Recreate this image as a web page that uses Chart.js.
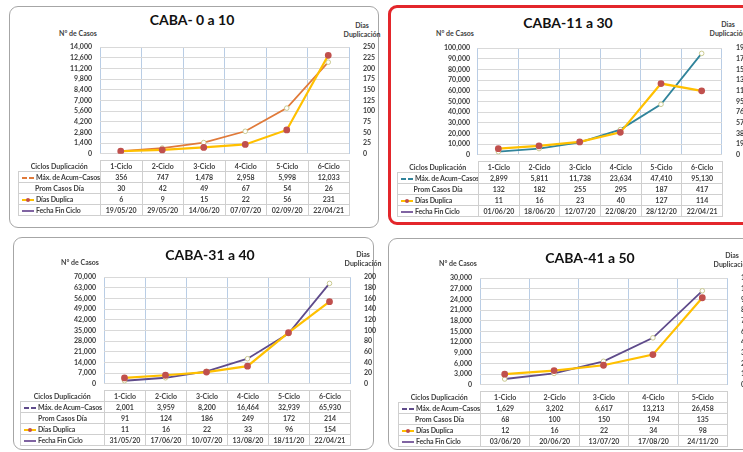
<!DOCTYPE html>
<html>
<head>
<meta charset="utf-8">
<script src="https://cdn.jsdelivr.net/npm/chart.js@4.4.0/dist/chart.umd.min.js"></script>
<style>
  body { margin: 0; width: 743px; height: 452px; overflow: hidden; background: #fff; position: relative;
         font-family: Lato, "Open Sans", sans-serif; }
  .box { position: absolute; border: 1.5px solid #a6a6a6; border-radius: 9px; box-sizing: border-box; }
  .box.red { border: 3px solid #e3262b; }
  .t { position: absolute; white-space: nowrap; color: #404040; font-weight: bold; font-size: 7px; line-height: 8px;
       transform: translate(-50%, -50%); }
  .title { font-size: 14px; line-height: 16px; color: #111; }
  canvas { position: absolute; }
  table { position: absolute; border-collapse: collapse; table-layout: fixed; font-size: 7px; font-weight: bold; color: #404040; }
  td { border: 1px solid #cfcfcf; height: 10px; line-height: 10px; padding: 0; text-align: center; white-space: nowrap; overflow: hidden; }
  td.lab { text-align: left; padding-left: 3px; letter-spacing: -0.15px; }
  td.hd { border: none; text-align: center; }
  .k { display: inline-block; width: 12px; margin-right: 2px; vertical-align: middle; position: relative; height: 2px; }
  .k .dot { position: absolute; left: 4px; top: -1.5px; width: 4px; height: 4px; border-radius: 50%; background: #c0504d; }
</style>
</head>
<body>
<script>
// Ciclos de duplicación
const ciclos6 = ["1-Ciclo", "2-Ciclo", "3-Ciclo", "4-Ciclo", "5-Ciclo", "6-Ciclo"];
const ciclos5 = ["1-Ciclo", "2-Ciclo", "3-Ciclo", "4-Ciclo", "5-Ciclo"];

// CABA- 0 a 10
const casos0a10 = [356, 747, 1478, 2958, 5998, 12033];
const prom0a10 = [30, 42, 49, 67, 54, 26];
const dias0a10 = [6, 9, 15, 22, 56, 231];
const fecha0a10 = ["19/05/20", "29/05/20", "14/06/20", "07/07/20", "02/09/20", "22/04/21"];

// CABA-11 a 30
const casos11a30 = [2899, 5811, 11738, 23634, 47410, 95130];
const prom11a30 = [132, 182, 255, 295, 187, 417];
const dias11a30 = [11, 16, 23, 40, 127, 114];
const fecha11a30 = ["01/06/20", "18/06/20", "12/07/20", "22/08/20", "28/12/20", "22/04/21"];

// CABA-31 a 40
const casos31a40 = [2001, 3959, 8200, 16464, 32939, 65930];
const prom31a40 = [91, 124, 186, 249, 172, 214];
const dias31a40 = [11, 16, 22, 33, 96, 154];
const fecha31a40 = ["31/05/20", "17/06/20", "10/07/20", "13/08/20", "18/11/20", "22/04/21"];

// CABA-41 a 50
const casos41a50 = [1629, 3202, 6617, 13213, 26458];
const prom41a50 = [68, 100, 150, 194, 135];
const dias41a50 = [12, 16, 22, 34, 98];
const fecha41a50 = ["03/06/20", "20/06/20", "13/07/20", "17/08/20", "24/11/20"];

// escalas (max, paso)
const escalaCasos = [[14000, 1400], [100000, 10000], [70000, 7000], [30000, 3000]];
const escalaDias = [[250, 25], [190, 19], [200, 20], [120, 12]];

const panels = [
  { title: "CABA- 0 a 10", labels: ciclos6, casos: casos0a10, prom: prom0a10, dias: dias0a10, fecha: fecha0a10,
    color: "#e07a3a", box: [9, 6, 370, 222], red: false,
    plot: [100, 43, 349, 158], tableLeft: 18, titleX: 192, titleY: 20, casosX: 78, casosY: 33, diasX: 362, diasY: 25 },
  { title: "CABA-11 a 30", labels: ciclos6, casos: casos11a30, prom: prom11a30, dias: dias11a30, fecha: fecha11a30,
    color: "#31849b", box: [388, 5, 380, 220], red: true,
    plot: [478, 44, 722, 159], tableLeft: 397, titleX: 568, titleY: 23, casosX: 455, casosY: 33, diasX: 728, diasY: 24 },
  { title: "CABA-31 a 40", labels: ciclos6, casos: casos31a40, prom: prom31a40, dias: dias31a40, fecha: fecha31a40,
    color: "#5f4b8b", box: [13, 237, 361, 213], red: false,
    plot: [104, 273, 350, 388], tableLeft: 20, titleX: 210, titleY: 255, casosX: 80, casosY: 262, diasX: 363, diasY: 254 },
  { title: "CABA-41 a 50", labels: ciclos5, casos: casos41a50, prom: prom41a50, dias: dias41a50, fecha: fecha41a50,
    color: "#5f4b8b", box: [388, 238, 380, 212], red: false,
    plot: [480, 274, 727, 389], tableLeft: 398, titleX: 590, titleY: 258, casosX: 458, casosY: 263, diasX: 732, diasY: 255 },
];

const LW = 60, RW = 30, PAD = 8;

function addText(text, x, y, cls) {
  const d = document.createElement("div");
  d.className = "t" + (cls ? " " + cls : "");
  d.textContent = text;
  d.style.left = x + "px";
  d.style.top = y + "px";
  document.body.appendChild(d);
}

function fmt(v) {
  return v.toString().replace(/\B(?=(\d{3})+(?!\d))/g, ",");
}

panels.forEach((p, i) => {
  // marco
  const box = document.createElement("div");
  box.className = "box" + (p.red ? " red" : "");
  box.style.left = p.box[0] + "px";
  box.style.top = p.box[1] + "px";
  box.style.width = p.box[2] + "px";
  box.style.height = p.box[3] + "px";
  document.body.appendChild(box);

  addText(p.title, p.titleX, p.titleY, "title");
  addText("N° de Casos", p.casosX, p.casosY);
  addText("Dias", p.diasX, p.diasY);
  addText("Duplicación", p.diasX, p.diasY + 9);

  const [L, T, R, B] = p.plot;
  const canvas = document.createElement("canvas");
  canvas.width = R - L + LW + RW;
  canvas.height = B - T + PAD * 2;
  canvas.style.left = (L - LW) + "px";
  canvas.style.top = (T - PAD) + "px";
  document.body.appendChild(canvas);

  const tickFont = { size: 7, family: "Lato, 'Open Sans', sans-serif", weight: "bold" };

  new Chart(canvas, {
    type: "line",
    data: {
      labels: p.labels,
      datasets: [
        {
          label: "Días Duplica",
          data: p.dias,
          yAxisID: "y1",
          borderColor: "#ffc000",
          borderWidth: 2.2,
          pointRadius: 2.3,
          pointBackgroundColor: "#c0504d",
          pointBorderColor: "#c0504d",
          tension: 0,
        },
        {
          label: "Máx. de Acum–Casos",
          data: p.casos,
          yAxisID: "y",
          borderColor: p.color,
          borderWidth: 1.8,
          pointRadius: 2.3,
          pointBorderWidth: 1,
          pointBackgroundColor: "#ffffff",
          pointBorderColor: "#c9c98f",
          tension: 0,
        },
      ],
    },
    options: {
      responsive: false,
      animation: false,
      layout: { padding: { top: PAD, left: 0, right: 0, bottom: 0 } },
      plugins: { legend: { display: false }, tooltip: { enabled: false } },
      scales: {
        x: {
          offset: true,
          grid: { offset: true, color: "#b9cde5", drawTicks: false },
          border: { display: false },
          ticks: { display: false },
          afterFit: (s) => { s.height = PAD; },
        },
        y: {
          position: "left",
          min: 0,
          max: escalaCasos[i][0],
          ticks: { stepSize: escalaCasos[i][1], autoSkip: false, padding: 8, font: tickFont, color: "#404040", callback: (v) => fmt(v) },
          grid: { color: "#d9d9d9", drawTicks: false },
          border: { display: false },
          afterFit: (s) => { s.width = LW; },
        },
        y1: {
          position: "right",
          min: 0,
          max: escalaDias[i][0],
          ticks: { stepSize: escalaDias[i][1], autoSkip: false, padding: 6, font: tickFont, color: "#404040" },
          grid: { display: false },
          border: { display: false },
          afterFit: (s) => { s.width = RW; },
        },
      },
    },
  });

  // tabla de datos
  const n = p.labels.length;
  const colW = (R - L) / n;
  const table = document.createElement("table");
  table.style.left = p.tableLeft + "px";
  table.style.top = (B + 2) + "px";
  table.style.width = (R - p.tableLeft) + "px";
  const cg = document.createElement("colgroup");
  let html = `<col style="width:${L - p.tableLeft}px">`;
  for (let c = 0; c < n; c++) html += `<col style="width:${colW}px">`;
  cg.innerHTML = html;
  table.appendChild(cg);

  const dash = `linear-gradient(to right, ${p.color} 0 40%, transparent 40% 60%, ${p.color} 60% 100%)`;
  const rows = [
    { key: "", label: "Ciclos Duplicación", vals: p.labels, cls: "hd" },
    { key: `<span class="k" style="background:${dash}"></span>`, label: "Máx. de Acum–Casos", vals: p.casos.map(fmt), cls: "lab" },
    { key: "", label: "Prom Casos Día", vals: p.prom, cls: "" },
    { key: `<span class="k" style="background:#ffc000"><span class="dot"></span></span>`, label: "Días Duplica", vals: p.dias, cls: "lab" },
    { key: `<span class="k" style="background:#8064a2"></span>`, label: "Fecha Fin Ciclo", vals: p.fecha, cls: "lab" },
  ];
  rows.forEach((r) => {
    const tr = document.createElement("tr");
    let cells = `<td class="${r.cls}">${r.key}${r.label}</td>`;
    r.vals.forEach((v) => { cells += `<td>${v}</td>`; });
    tr.innerHTML = cells;
    table.appendChild(tr);
  });
  document.body.appendChild(table);
});
</script>
</body>
</html>
